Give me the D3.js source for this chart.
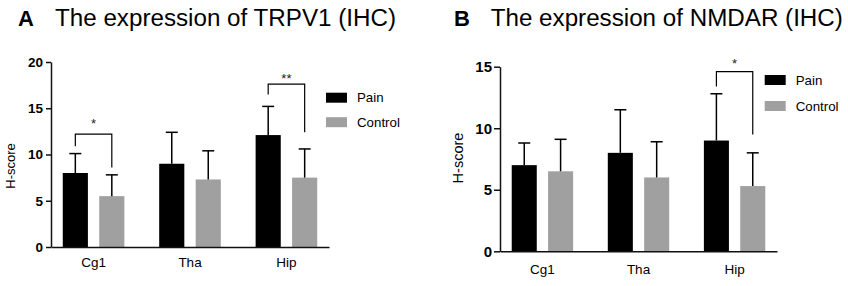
<!DOCTYPE html>
<html><head><meta charset="utf-8">
<script src="https://cdn.jsdelivr.net/npm/d3@7"></script>
<style>
html,body{margin:0;padding:0;background:#fff;}
svg{display:block;font-family:"Liberation Sans",Arial,sans-serif;}
</style></head><body>
<svg id="chart" width="848" height="286"></svg>
<script>
// ---- data ----
const categories = ["Cg1", "Tha", "Hip"];
const seriesNames = ["Pain", "Control"];
// Panel A: TRPV1
const trpv1Pain = [8.0, 9.0, 12.1];
const trpv1PainSD = [2.1, 3.4, 3.1];
const trpv1Control = [5.5, 7.3, 7.5];
const trpv1ControlSD = [2.3, 3.1, 3.1];
const trpv1Ticks = [0, 5, 10, 15, 20];
// significance: [category, bracket top, left leg end, right leg end, label value, label]
const trpv1Sig = [["Cg1", 12.2, 10.9, 8.6, 13.8, "*"], ["Hip", 17.6, 16.5, 12.4, 18.6, "**"]];
// Panel B: NMDAR
const nmdarPain = [7.0, 8.0, 9.0];
const nmdarPainSD = [1.8, 3.5, 3.8];
const nmdarControl = [6.5, 6.0, 5.3];
const nmdarControlSD = [2.6, 2.9, 2.7];
const nmdarTicks = [0, 5, 10, 15];
const nmdarSig = [["Hip", 14.6, 13.4, 9.5, 15.55, "*"]];

const colors = {Pain: "#000000", Control: "#a0a0a0"};
const svg = d3.select("#chart");

function panel(o) {
  const g = svg.append("g");
  const y = d3.scaleLinear().domain([0, o.ymax]).range([o.y0, o.y1]);
  const x = d3.scaleBand().domain(categories).range([o.x0, o.x1])
    .paddingInner(0.361).paddingOuter(0.122);
  const xs = d3.scaleBand().domain(seriesNames).range([0, x.bandwidth()])
    .paddingInner(0.311).paddingOuter(0);
  const rows = [];
  categories.forEach((c, i) => {
    rows.push({c, s: "Pain", v: o.pain[i], sd: o.painSD[i]});
    rows.push({c, s: "Control", v: o.control[i], sd: o.controlSD[i]});
  });
  // bars
  g.selectAll("rect.bar").data(rows).enter().append("rect")
    .attr("x", d => x(d.c) + xs(d.s)).attr("width", xs.bandwidth())
    .attr("y", d => y(d.v)).attr("height", d => y(0) - y(d.v))
    .attr("fill", d => colors[d.s]);
  // error bars
  const cap = 6;
  rows.forEach(d => {
    const cx = x(d.c) + xs(d.s) + xs.bandwidth() / 2;
    g.append("line").attr("x1", cx).attr("x2", cx).attr("y1", y(d.v)).attr("y2", y(d.v + d.sd))
      .attr("stroke", "#000").attr("stroke-width", 1.5);
    g.append("line").attr("x1", cx - cap).attr("x2", cx + cap).attr("y1", y(d.v + d.sd)).attr("y2", y(d.v + d.sd))
      .attr("stroke", "#000").attr("stroke-width", 1.5);
  });
  // y axis
  const ya = g.append("g").attr("transform", `translate(${o.x0},0)`)
    .call(d3.axisLeft(y).tickValues(o.ticks).tickSize(o.tickSize).tickPadding(o.tickPad).tickSizeOuter(0));
  ya.select(".domain").attr("stroke", "#111").attr("stroke-width", 1.5);
  ya.selectAll(".tick line").attr("stroke", "#111").attr("stroke-width", 1.5);
  ya.selectAll(".tick text").attr("font-family", "Liberation Sans, Arial, sans-serif")
    .attr("font-size", o.tickFont).attr("font-weight", "bold").attr("fill", "#000");
  // x axis
  const xa = g.append("g").attr("transform", `translate(0,${o.y0})`)
    .call(d3.axisBottom(x).tickSize(0).tickPadding(o.catPad));
  xa.select(".domain").attr("stroke", "#111").attr("stroke-width", 1.5);
  xa.selectAll(".tick text").attr("font-family", "Liberation Sans, Arial, sans-serif")
    .attr("font-size", 13.5).attr("fill", "#000");
  // y label
  g.append("text").attr("transform", `translate(${o.ylabX},${o.ylabY}) rotate(-90)`)
    .attr("text-anchor", "middle").attr("dominant-baseline", "central")
    .attr("font-size", o.ylabFont).attr("fill", "#000").text("H-score");
  // significance brackets
  o.sig.forEach(s => {
    const xl = x(s[0]) + xs("Pain") + xs.bandwidth() / 2 + o.sigDx;
    const xr = x(s[0]) + xs("Control") + xs.bandwidth() / 2;
    g.append("path")
      .attr("d", `M${xl},${y(s[2])}V${y(s[1])}H${xr}V${y(s[3])}`)
      .attr("fill", "none").attr("stroke", "#000").attr("stroke-width", 1.2);
    g.append("text").attr("x", (xl + xr) / 2).attr("y", y(s[4]))
      .attr("text-anchor", "middle").attr("dominant-baseline", "central")
      .attr("font-size", 13).attr("fill", "#222").attr("dy", "0.3em").text(s[5]);
  });
  // legend
  seriesNames.forEach((n, i) => {
    const ly = o.legY + i * o.legStep;
    g.append("rect").attr("x", o.legX).attr("y", ly - 5).attr("width", 21).attr("height", 10)
      .attr("fill", colors[n]);
    g.append("text").attr("x", o.legX + 31).attr("y", ly).attr("dominant-baseline", "central")
      .attr("font-size", 13.3).attr("fill", "#000").text(n);
  });
  // title
  g.append("text").attr("x", o.letterX).attr("y", 26).attr("font-size", 22).attr("font-weight", "bold")
    .attr("fill", "#000").text(o.letter);
  g.append("text").attr("x", o.titleX).attr("y", 26).attr("font-size", 24.2)
    .attr("fill", "#000").text(o.title);
}

panel({
  pain: trpv1Pain, painSD: trpv1PainSD, control: trpv1Control, controlSD: trpv1ControlSD,
  ticks: trpv1Ticks, ymax: 20, sig: trpv1Sig, sigDx: 0,
  x0: 51, x1: 329, y0: 247, y1: 62, tickSize: 5, tickPad: 3, tickFont: 13.5, catPad: 10,
  ylabX: 10, ylabY: 166, ylabFont: 13,
  legX: 326, legY: 97.7, legStep: 24.5,
  letter: "A", letterX: 18, title: "The expression of TRPV1 (IHC)", titleX: 55
});
panel({
  pain: nmdarPain, painSD: nmdarPainSD, control: nmdarControl, controlSD: nmdarControlSD,
  ticks: nmdarTicks, ymax: 15, sig: nmdarSig, sigDx: 0,
  x0: 500, x1: 777, y0: 251.3, y1: 66.7, tickSize: 6, tickPad: 2, tickFont: 15, catPad: 13,
  ylabX: 458, ylabY: 158, ylabFont: 14.5,
  legX: 764.7, legY: 80, legStep: 26,
  letter: "B", letterX: 454, title: "The expression of NMDAR (IHC)", titleX: 490.7
});
</script>
</body></html>
